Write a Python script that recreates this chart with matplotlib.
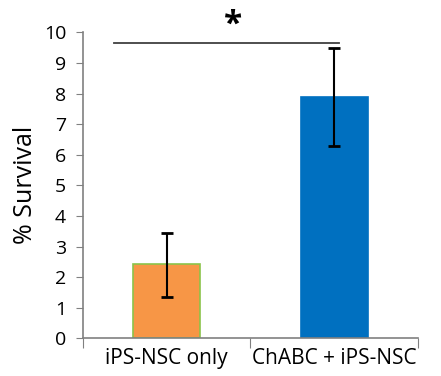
import matplotlib
matplotlib.use("Agg")
import matplotlib.pyplot as plt
import numpy as np

categories = ["iPS-NSC only", "ChABC + iPS-NSC"]
values = [2.42, 7.88]
err_low = [1.36, 6.28]
err_high = [3.45, 9.5]
colors = ["#F79646", "#0070C0"]
edges = ["#8BC34A", "#0070C0"]
sig_y = 9.65

plt.rcParams['font.family'] = ['Open Sans', 'DejaVu Sans']
fig = plt.figure(figsize=(4.41, 3.76), dpi=100)
ax = fig.add_axes([0.188, 0.1, 0.76, 0.814])

x = np.arange(len(categories))
yerr = np.array([[v - l for v, l in zip(values, err_low)],
                 [h - v for v, h in zip(values, err_high)]])
ax.bar(x, values, width=0.4, color=colors, edgecolor=edges, linewidth=1.2, zorder=2)
ax.errorbar(x, values, yerr=yerr, fmt='none', ecolor='black', elinewidth=1.5,
            capsize=4, capthick=2, zorder=3)

ax.set_xlim(-0.5, 1.5)
ax.set_ylim(0, 10)
ax.set_yticks(range(0, 11))
ax.tick_params(axis='y', labelsize=14, length=5, color='#808080', direction='out', pad=7)
ax.set_xticks([-0.5, 0.5, 1.5])
ax.set_xticklabels([])
ax.tick_params(axis='x', length=7, color='#808080', direction='out')
for i, c in enumerate(categories):
    ax.text(x[i], -0.3, c, ha='center', va='top', fontsize=15,
            transform=ax.transData)
for s in ['top', 'right']:
    ax.spines[s].set_visible(False)
for s in ['left', 'bottom']:
    ax.spines[s].set_color('#808080')
    ax.spines[s].set_linewidth(1.2)
ax.set_ylabel("% Survival", fontsize=18, labelpad=4)

ax.plot([-0.315, 1.028], [sig_y, sig_y], color='#404040', lw=1.3, clip_on=False, zorder=4)
ax.text(0.396, sig_y + 0.05, "*", ha='center', va='bottom', fontsize=24, fontweight='bold',
        clip_on=False)

fig.savefig("out.png", dpi=100)
